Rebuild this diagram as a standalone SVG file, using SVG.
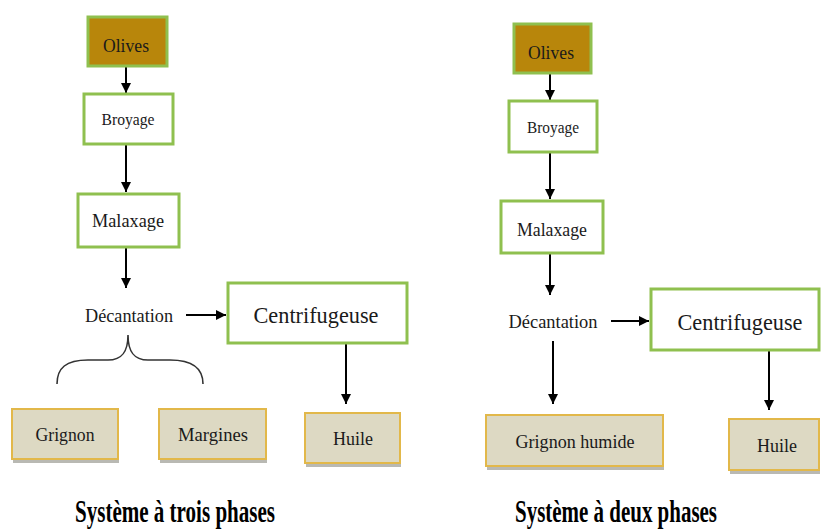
<svg xmlns="http://www.w3.org/2000/svg" width="822" height="529" viewBox="0 0 822 529">
<style>
.g{fill:#fff;stroke:#8fc04f;stroke-width:3}
.o{fill:#b8860b;stroke:#8fc04f;stroke-width:3}
.b{fill:#ddd9c3;stroke:#e2b84a;stroke-width:2}
.sh{fill:#8a8a80;opacity:0.6}
text{font-family:"Liberation Serif","Times New Roman",serif;fill:#1a1a1a;text-anchor:middle}
.cap{font-weight:bold;font-size:31px;fill:#000}
.c{stroke:#000;stroke-width:2;fill:none}
.br{stroke:#333;stroke-width:1.6;fill:none}
</style>
<defs>
<marker id="ah" viewBox="0 0 10 10" refX="10" refY="5" markerWidth="5" markerHeight="5" markerUnits="strokeWidth" orient="auto">
<path d="M0,0 L10,5 L0,10 z" fill="#000"/>
</marker>
</defs>
<g id="connectors">
<line class="c" x1="126" y1="67" x2="126" y2="93" marker-end="url(#ah)"/>
<line class="c" x1="126" y1="145" x2="126" y2="192" marker-end="url(#ah)"/>
<line class="c" x1="126" y1="248" x2="126" y2="288" marker-end="url(#ah)"/>
<line class="c" x1="186" y1="315" x2="226" y2="315" marker-end="url(#ah)"/>
<line class="c" x1="346" y1="344" x2="346" y2="404" marker-end="url(#ah)"/>
<path class="br" d="M57,384 C57,368 66,360 88,360 L108,360 C122,360 128,352 128,335 C128,352 134,360 148,360 L170,360 C192,360 203,368 203,384"/>
<line class="c" x1="550" y1="74" x2="550" y2="100" marker-end="url(#ah)"/>
<line class="c" x1="550" y1="153" x2="550" y2="199" marker-end="url(#ah)"/>
<line class="c" x1="550" y1="254" x2="550" y2="295" marker-end="url(#ah)"/>
<line class="c" x1="611" y1="321" x2="649" y2="321" marker-end="url(#ah)"/>
<line class="c" x1="553" y1="341" x2="553" y2="404" marker-end="url(#ah)"/>
<line class="c" x1="769" y1="351" x2="769" y2="410" marker-end="url(#ah)"/>
</g>
<g id="olives-l"><rect class="o" x="88" y="17" width="79" height="49"/><text x="126" y="52" font-size="19" textLength="46" lengthAdjust="spacingAndGlyphs">Olives</text></g>
<g id="broyage-l"><rect class="g" x="84" y="94" width="89" height="50"/><text x="128" y="125" font-size="16" textLength="53" lengthAdjust="spacingAndGlyphs">Broyage</text></g>
<g id="malaxage-l"><rect class="g" x="78" y="194" width="101" height="53"/><text x="128" y="227" font-size="19" textLength="72" lengthAdjust="spacingAndGlyphs">Malaxage</text></g>
<g id="decantation-l"><text x="129" y="322" font-size="18" textLength="88" lengthAdjust="spacingAndGlyphs">Décantation</text></g>
<g id="centrifugeuse-l"><rect class="g" x="228" y="283" width="179" height="60"/><text x="316" y="323" font-size="23" textLength="125" lengthAdjust="spacingAndGlyphs">Centrifugeuse</text></g>
<g id="grignon-l"><rect class="sh" x="13" y="412" width="106" height="51"/><rect class="b" x="12" y="409" width="106" height="50"/><text x="65" y="441" font-size="18" textLength="59" lengthAdjust="spacingAndGlyphs">Grignon</text></g>
<g id="margines-l"><rect class="sh" x="160" y="412" width="107" height="51"/><rect class="b" x="159" y="409" width="107" height="50"/><text x="213" y="441" font-size="18" textLength="70" lengthAdjust="spacingAndGlyphs">Margines</text></g>
<g id="huile-l"><rect class="sh" x="306" y="416" width="95" height="51"/><rect class="b" x="305" y="413" width="95" height="50"/><text x="353" y="445" font-size="18" textLength="40" lengthAdjust="spacingAndGlyphs">Huile</text></g>
<g id="caption-l"><text class="cap" x="175" y="522" textLength="200" lengthAdjust="spacingAndGlyphs">Système à trois phases</text></g>
<g id="olives-r"><rect class="o" x="514" y="24" width="77" height="49"/><text x="551" y="59" font-size="19" textLength="46" lengthAdjust="spacingAndGlyphs">Olives</text></g>
<g id="broyage-r"><rect class="g" x="509" y="101" width="88" height="51"/><text x="553" y="133" font-size="16" textLength="52" lengthAdjust="spacingAndGlyphs">Broyage</text></g>
<g id="malaxage-r"><rect class="g" x="501" y="201" width="102" height="52"/><text x="552" y="236" font-size="19" textLength="70" lengthAdjust="spacingAndGlyphs">Malaxage</text></g>
<g id="decantation-r"><text x="553" y="328" font-size="18" textLength="89" lengthAdjust="spacingAndGlyphs">Décantation</text></g>
<g id="centrifugeuse-r"><rect class="g" x="651" y="289" width="168" height="61"/><text x="740" y="330" font-size="23" textLength="125" lengthAdjust="spacingAndGlyphs">Centrifugeuse</text></g>
<g id="grignon-humide-r"><rect class="sh" x="487" y="418" width="177" height="52"/><rect class="b" x="486" y="415" width="177" height="51"/><text x="575" y="448" font-size="19" textLength="119" lengthAdjust="spacingAndGlyphs">Grignon humide</text></g>
<g id="huile-r"><rect class="sh" x="730" y="422" width="90" height="52"/><rect class="b" x="729" y="419" width="90" height="51"/><text x="777" y="452" font-size="18" textLength="40" lengthAdjust="spacingAndGlyphs">Huile</text></g>
<g id="caption-r"><text class="cap" x="616" y="522" textLength="202" lengthAdjust="spacingAndGlyphs">Système à deux phases</text></g>
</svg>
